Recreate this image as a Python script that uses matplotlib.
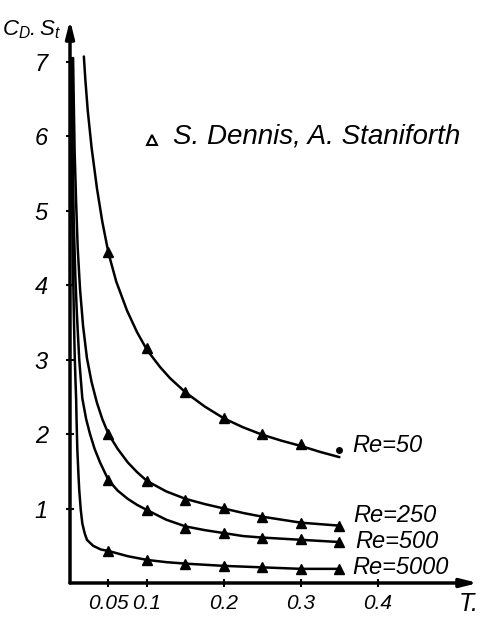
import matplotlib
matplotlib.use("Agg")
import matplotlib.pyplot as plt

plt.rcParams['font.family'] = ['Liberation Sans', 'DejaVu Sans']
plt.rcParams['font.style'] = 'italic'
plt.rcParams['mathtext.fontset'] = 'custom'
plt.rcParams['mathtext.it'] = 'Liberation Sans:italic'
plt.rcParams['mathtext.rm'] = 'Liberation Sans:italic'

# curves: time T and C_D.S_t
re50_t = [0.018, 0.020, 0.023, 0.028, 0.035, 0.042, 0.050, 0.060, 0.074, 0.087, 0.100,
          0.117, 0.130, 0.150, 0.175, 0.200, 0.225, 0.250, 0.275, 0.300, 0.325, 0.350]
re50_c = [7.07, 6.75, 6.35, 5.85, 5.30, 4.85, 4.43, 4.05, 3.66, 3.37, 3.13,
          2.90, 2.75, 2.56, 2.37, 2.21, 2.09, 1.99, 1.91, 1.84, 1.76, 1.69]

re250_t = [0.004, 0.005, 0.006, 0.008, 0.010, 0.013, 0.017, 0.022, 0.028, 0.035, 0.042,
           0.050, 0.062, 0.075, 0.087, 0.100, 0.125, 0.150, 0.175, 0.200, 0.225,
           0.250, 0.275, 0.300, 0.325, 0.350]
re250_c = [7.05, 6.40, 5.80, 5.10, 4.50, 3.95, 3.45, 3.02, 2.70, 2.42, 2.20,
           2.00, 1.80, 1.62, 1.49, 1.37, 1.23, 1.13, 1.06, 1.00, 0.94,
           0.89, 0.85, 0.81, 0.79, 0.77]

re500_t = [0.002, 0.003, 0.004, 0.005, 0.007, 0.009, 0.012, 0.016, 0.021, 0.026, 0.032,
           0.039, 0.050, 0.062, 0.075, 0.087, 0.100, 0.125, 0.150, 0.175, 0.200,
           0.225, 0.250, 0.300, 0.350]
re500_c = [7.05, 6.20, 5.40, 4.80, 4.10, 3.60, 3.00, 2.48, 2.20, 2.00, 1.80,
           1.62, 1.38, 1.24, 1.13, 1.05, 0.98, 0.85, 0.76, 0.71, 0.67,
           0.63, 0.61, 0.58, 0.55]

re5000_t = [0.001, 0.002, 0.003, 0.004, 0.005, 0.006, 0.007, 0.008, 0.0085, 0.0095,
            0.011, 0.012, 0.014, 0.016, 0.019, 0.022, 0.030, 0.040, 0.050, 0.075,
            0.100, 0.125, 0.150, 0.200, 0.250, 0.300, 0.350]
re5000_c = [7.05, 5.80, 4.90, 4.20, 3.60, 3.10, 2.75, 2.46, 2.20, 1.80,
            1.45, 1.25, 0.98, 0.80, 0.67, 0.58, 0.50, 0.45, 0.43, 0.36,
            0.31, 0.28, 0.26, 0.23, 0.21, 0.19, 0.19]

# S. Dennis, A. Staniforth points
pts_t = [0.05, 0.10, 0.15, 0.20, 0.25, 0.30, 0.35]
pts50_c = [4.45, 3.15, 2.56, 2.21, 2.00, 1.86]
pts50_last = 1.79
pts250_c = [2.00, 1.37, 1.12, 1.01, 0.89, 0.81, 0.77]
pts500_c = [1.38, 0.98, 0.74, 0.67, 0.60, 0.59, 0.55]
pts5000_c = [0.43, 0.31, 0.26, 0.23, 0.21, 0.19, 0.19]

xticks = [0.05, 0.1, 0.2, 0.3, 0.4]
xtick_labels = ['0.05', '0.1', '0.2', '0.3', '0.4']
yticks = [1, 2, 3, 4, 5, 6, 7]


fig = plt.figure(figsize=(4.81, 6.21), dpi=100)
ax = fig.add_axes([70 / 481, 38 / 621, 408 / 481, 563 / 621])
ax.set_xlim(0, 0.53)
ax.set_ylim(0, 7.56)

for t, c in [(re50_t, re50_c), (re250_t, re250_c), (re500_t, re500_c), (re5000_t, re5000_c)]:
    ax.plot(t, c, color='black', lw=1.8, solid_capstyle='round', solid_joinstyle='round')

ax.plot(pts_t[:6], pts50_c, '^', color='black', ms=7)
ax.plot(pts_t[6], pts50_last, 'o', color='black', ms=4)
for c in [pts250_c, pts500_c, pts5000_c]:
    ax.plot(pts_t, c, '^', color='black', ms=7)

# axes drawn as arrows
for s in ax.spines.values():
    s.set_visible(False)
ax.annotate('', xy=(0, 1), xytext=(0, 0), xycoords='axes fraction',
            arrowprops=dict(arrowstyle='-|>,head_width=0.25,head_length=1.0', lw=2.5,
                            color='black', shrinkA=0, shrinkB=0))
ax.annotate('', xy=(1, 0), xytext=(0, 0), xycoords='axes fraction',
            arrowprops=dict(arrowstyle='-|>,head_width=0.25,head_length=1.0', lw=2.5,
                            color='black', shrinkA=0, shrinkB=0))

ax.set_xticks(xticks)
ax.set_xticklabels(xtick_labels, fontsize=15)
ax.set_yticks(yticks)
ax.set_yticklabels([str(v) for v in yticks], fontsize=17)
ax.tick_params(axis='both', direction='inout', length=6, width=1.5)
ax.tick_params(axis='x', pad=5)
ax.tick_params(axis='y', pad=13)

# legend
ax.plot(0.1065, 5.95, '^', color='black', mfc='white', mew=1.5, ms=7)
ax.text(0.134, 5.99, 'S. Dennis, A. Staniforth', fontsize=20, va='center', ha='left')

ax.text(0.367, 1.84, 'Re=50', fontsize=17, va='center', ha='left')
ax.text(0.368, 0.91, 'Re=250', fontsize=17, va='center', ha='left')
ax.text(0.370, 0.56, 'Re=500', fontsize=17, va='center', ha='left')
ax.text(0.367, 0.21, 'Re=5000', fontsize=17, va='center', ha='left')

fig.text(459 / 481, 1 - 604 / 621, 'T.', fontsize=18, va='center', ha='left')
fig.text(2 / 481, 1 - 30 / 621, r'$C_D.S_t$', fontsize=16, va='center', ha='left')

fig.savefig('out.png', dpi=100)
